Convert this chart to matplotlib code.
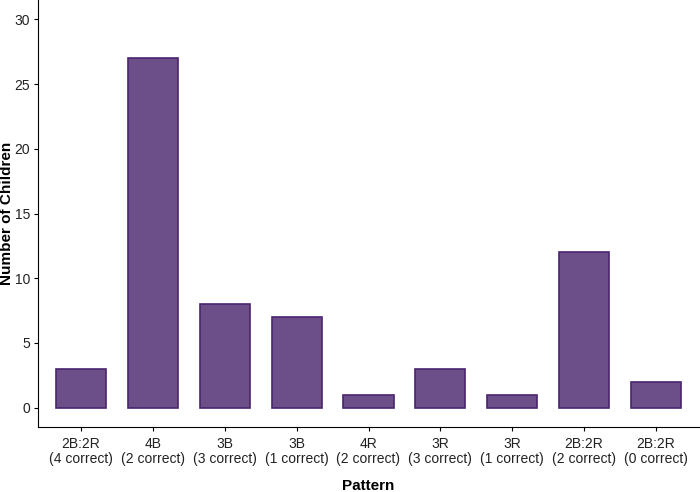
import matplotlib
matplotlib.use("Agg")
from matplotlib import pyplot as plt

patterns = ["2B:2R\n(4 correct)", "4B\n(2 correct)", "3B\n(3 correct)", "3B\n(1 correct)",
            "4R\n(2 correct)", "3R\n(3 correct)", "3R\n(1 correct)", "2B:2R\n(2 correct)",
            "2B:2R\n(0 correct)"]
children = [3, 27, 8, 7, 1, 3, 1, 12, 2]

plt.rcParams["font.family"] = ["Liberation Sans", "DejaVu Sans"]

fig = plt.figure(figsize=(7, 4.92), dpi=100)
ax = fig.add_axes([38 / 700, 65 / 492, 661 / 700, 427 / 492])

x = range(1, len(children) + 1)
ax.bar(x, children, width=0.7, color="#6C4F89", edgecolor="#4A2470", linewidth=1.2)

ax.set_xlim(0.4, len(children) + 0.6)
ax.set_ylim(-1.5, 31.5)
ax.set_xticks(list(x))
ax.set_xticklabels(patterns, fontsize=10, color="#222222", linespacing=1.1)
ax.set_yticks([0, 5, 10, 15, 20, 25, 30])
ax.tick_params(axis="y", labelsize=10, labelcolor="#222222", length=3, pad=2.5)
ax.tick_params(axis="x", length=3, pad=4)

ax.spines["top"].set_visible(False)
ax.spines["right"].set_visible(False)

ax.set_xlabel("Pattern", fontsize=11, fontweight="bold", va="center")
ax.xaxis.set_label_coords(0.5, -59 / 427)
ax.set_ylabel("Number of Children", fontsize=11, fontweight="bold", va="center")
ax.yaxis.set_label_coords(-30.5 / 661, 0.5)

plt.savefig("out.png", dpi=100)
